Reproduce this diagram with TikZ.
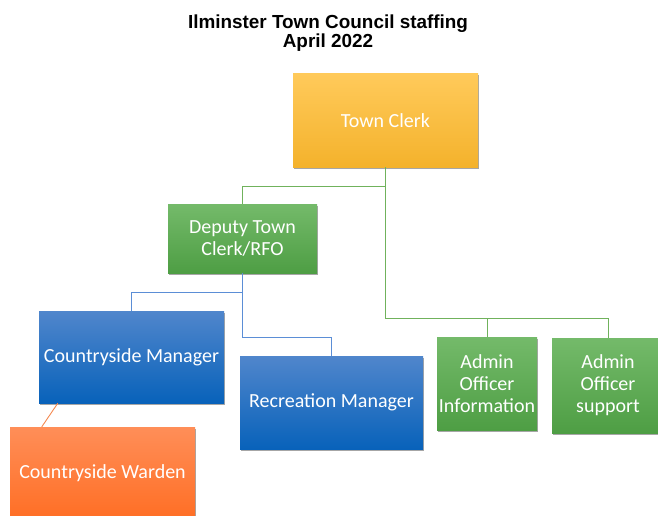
\documentclass[tikz,border=0pt]{standalone}
\usepackage{fontspec}
\setmainfont{Carlito}
\newfontfamily\titlefont{Liberation Sans}
\usetikzlibrary{calc}
\usetikzlibrary{shadows}
\usepackage{xcolor}
\definecolor{goldTop}{RGB}{255,202,90}
\definecolor{goldBot}{RGB}{244,178,44}
\definecolor{greenTop}{RGB}{116,186,106}
\definecolor{greenBot}{RGB}{78,158,68}
\definecolor{blueTop}{RGB}{80,134,204}
\definecolor{blueBot}{RGB}{8,98,186}
\definecolor{orangeTop}{RGB}{255,142,88}
\definecolor{orangeBot}{RGB}{255,110,36}
\definecolor{greenLine}{RGB}{112,178,92}
\definecolor{blueLine}{RGB}{91,142,214}
\definecolor{orangeLine}{RGB}{244,137,80}

\tikzset{
  post/.style={rectangle, text=white, align=center, inner sep=1pt,
    font=\fontsize{20}{22}\selectfont,
    drop shadow={shadow xshift=1.2pt, shadow yshift=-1.5pt, opacity=0.35, fill=black}},
  goldpost/.style={post, top color=goldTop, bottom color=goldBot},
  greenpost/.style={post, top color=greenTop, bottom color=greenBot},
  bluepost/.style={post, top color=blueTop, bottom color=blueBot},
  orangepost/.style={post, top color=orangeTop, bottom color=orangeBot},
  link/.style={line width=0.9pt},
}

\begin{document}
\begin{tikzpicture}[x=1pt, y=-1pt]
\useasboundingbox (0,0) rectangle (658,516);
\clip (0,0) rectangle (658,516);
\node [align=center, font=\titlefont\bfseries\fontsize{18.9}{19.5}\selectfont] (title) at (328,33) {Ilminster Town Council staffing\\April 2022};
% the posts
\node [goldpost, minimum width=185, minimum height=93] (clerk) at (385.5,120.5) {Town Clerk};
\node [greenpost, minimum width=149, minimum height=69] (deputy) at (242.5,238.5) {Deputy Town\\Clerk/RFO};
\node [bluepost, minimum width=185, minimum height=92] (cman) at (131.5,357) {Countryside Manager};
\node [bluepost, minimum width=183, minimum height=93] (rman) at (331.5,402.5) {Recreation Manager};
\node [orangepost, minimum width=185, minimum height=93] (warden) at (102.5,473.5) {Countryside Warden};
\node [greenpost, minimum width=100, minimum height=93] (info) at (487,383.5) {Admin\\Officer\\Information};
\node [greenpost, minimum width=112, minimum height=95] (support) at (608,385.5) {Admin\\Officer\\support};
% the links
\draw [link, greenLine] (clerk.south) -- ++(0,19) -| (deputy.north);
\draw [link, greenLine] (clerk.south) -- ++(0,151) -| (info.north);
\draw [link, greenLine] (clerk.south) -- ++(0,151) -| (support.north);
\draw [link, blueLine] (deputy.south) -- ++(0,19) -| (cman.north);
\draw [link, blueLine] (deputy.south) -- ++(0,64) -| (rman.north);
\draw [link, orangeLine] ($(cman.south west)+(19,0)$) -- ($(warden.north west)+(32,0)$);
\end{tikzpicture}
\end{document}
